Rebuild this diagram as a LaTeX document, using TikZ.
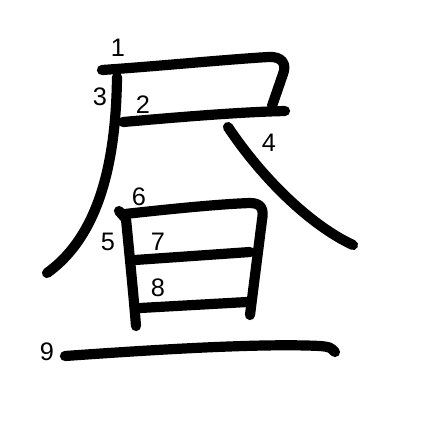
\documentclass[tikz,border=0pt]{standalone}
\usepackage{fontspec}
\setmainfont{Liberation Sans}
\usetikzlibrary{positioning}

\begin{document}
\begin{tikzpicture}[x=0.01cm,y=-0.01cm,
  stroke/.style={line width=2.9pt,line cap=round,line join=round},
  num/.style={inner sep=0pt,font=\fontsize{7.2}{8}\selectfont}]
\useasboundingbox (0,0) rectangle (447,447);
% strokes
\draw[stroke] (102,70) .. controls (160,66) and (220,60) .. (268,57) .. controls (282,56) and (287,64) .. (283,74) -- (272,106);
\draw[stroke] (123,122) .. controls (180,117) and (240,112) .. (285,111);
\draw[stroke] (117,77) .. controls (116,160) and (100,235) .. (47,273);
\draw[stroke] (228,127) .. controls (262,178) and (310,225) .. (353,245);
\draw[stroke] (119,211) -- (126,219) .. controls (130,260) and (134,300) .. (136,326);
\draw[stroke] (125,214) .. controls (170,209) and (220,204) .. (250,203) .. controls (262,203) and (264,210) .. (262,220) -- (250,315);
\draw[stroke] (135,260) -- (250,252);
\draw[stroke] (140,308) -- (247,302);
\draw[stroke] (65,356) .. controls (150,350) and (260,343) .. (320,346) .. controls (330,347) .. (335,352);
% stroke numbers
\node[num] (n1) at (118,48) {1};
\node[num] (n2) at (143,105) {2};
\node[num] (n3) at (100,97) {3};
\node[num] (n4) at (269,143) {4};
\node[num] (n5) at (108,242) {5};
\node[num] (n6) at (139,197) {6};
\node[num] (n7) at (158,242) {7};
\node[num] (n8) at (158,288) {8};
\node[num] (n9) at (47,352) {9};
\end{tikzpicture}
\end{document}
